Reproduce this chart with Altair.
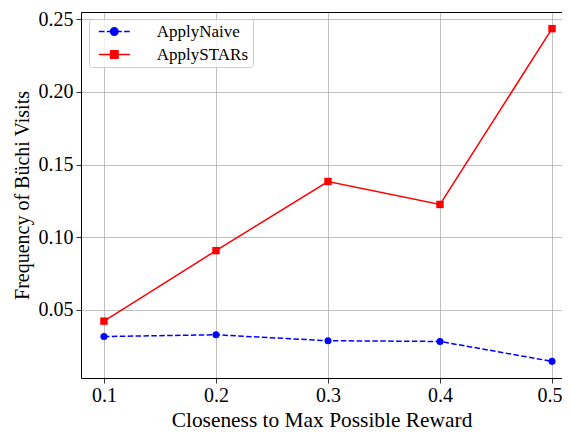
import altair as alt
import pandas as pd

closeness = [0.1, 0.2, 0.3, 0.4, 0.5]
naive = [0.0317, 0.0329, 0.0288, 0.0283, 0.0146]
stars = [0.0423, 0.0908, 0.1384, 0.1226, 0.2436]
series_names = ["ApplyNaive", "ApplySTARs"]
series_colors = ["#0000ff", "#ff0000"]
x_ticks = [0.1, 0.2, 0.3, 0.4, 0.5]
y_ticks = [0.05, 0.10, 0.15, 0.20, 0.25]

rows = []
for xv, v in zip(closeness, naive):
    rows.append({"x": xv, "y": v, "series": series_names[0]})
for xv, v in zip(closeness, stars):
    rows.append({"x": xv, "y": v, "series": series_names[1]})
df = pd.DataFrame(rows)

FONT = "Liberation Serif"

xscale = alt.Scale(domain=[0.0795, 0.5089], nice=False, zero=False)
yscale = alt.Scale(domain=[0.00315, 0.25505], nice=False, zero=False)

xenc = alt.X("x:Q", scale=xscale,
             axis=alt.Axis(values=x_ticks, format=".1f", orient="bottom",
                           labelFlush=12, labelFlushOffset=10,
                           titleY=48.5, titleBaseline="alphabetic",
                           title="Closeness to Max Possible Reward"))
yenc = alt.Y("y:Q", scale=yscale,
             axis=alt.Axis(values=y_ticks, format=".2f",
                           title="Frequency of Büchi Visits"))

base = alt.Chart(df).encode(x=xenc, y=yenc)

naive_line = base.transform_filter(alt.datum.series == series_names[0]).mark_line(
    color=series_colors[0], strokeWidth=1.5, strokeDash=[5.5, 2.4])
naive_pts = base.transform_filter(alt.datum.series == series_names[0]).mark_point(
    shape="circle", filled=True, color=series_colors[0], size=50, opacity=1)
stars_line = base.transform_filter(alt.datum.series == series_names[1]).mark_line(
    color=series_colors[1], strokeWidth=1.5)
stars_pts = base.transform_filter(alt.datum.series == series_names[1]).mark_point(
    shape="square", filled=True, color=series_colors[1], size=55, opacity=1)

data_layers = alt.layer(naive_line, naive_pts, stars_line, stars_pts)

legend_paths = [
    "M-3,0H-1.9M-1.45,0H1.45M1.9,0H3M0.725,0A0.725,0.725,0,1,1,-0.725,0A0.725,0.725,0,1,1,0.725,0Z",
    "M-3,0H3M-0.725,-0.725H0.725V0.725H-0.725Z",
]

leg = alt.Legend(
    title=None, orient="none", legendX=8, legendY=7,
    padding=4, symbolSize=107, symbolStrokeWidth=1.5,
    symbolOffset=12.8, labelOffset=34, rowPadding=5,
    labelFont=FONT, labelFontSize=17, labelColor="black",
    fillColor="rgba(255,255,255,0.8)", strokeColor="#cccccc", cornerRadius=3,
)

top_x = alt.X("x:Q", scale=xscale,
              axis=alt.Axis(orient="top", labels=False, ticks=False, grid=False,
                            domain=True, title=None))

legend_layer = alt.Chart(df).transform_filter(alt.datum.x < 0).mark_point(
    filled=True, size=107, strokeWidth=1.5, opacity=1).encode(
    x=top_x, y=yenc,
    fill=alt.Fill("series:N", scale=alt.Scale(domain=series_names, range=series_colors), legend=leg),
    stroke=alt.Stroke("series:N", scale=alt.Scale(domain=series_names, range=series_colors), legend=leg),
    shape=alt.Shape("series:N", scale=alt.Scale(domain=series_names, range=legend_paths), legend=leg),
)

chart = alt.layer(data_layers, legend_layer).properties(
    width=481, height=366,
    autosize=alt.AutoSizeParams(type="none"),
    padding={"left": 73, "top": 4, "right": 0, "bottom": 56},
).configure_view(
    stroke=None
).configure_axis(
    grid=True, gridColor="#b0b0b0", gridWidth=0.8,
    domainColor="black", domainWidth=1,
    tickColor="black", tickSize=5, tickWidth=0.8,
    labelFont=FONT, labelFontSize=20, labelColor="black",
    titleFont=FONT, titleColor="black", titleFontWeight="normal",
).configure_axisX(
    titleFontSize=21.4, labelPadding=2,
).configure_axisY(
    titleFontSize=20, titlePadding=6, labelPadding=3,
)

chart.save("out.html", embed_options={"renderer": "svg", "actions": False})
